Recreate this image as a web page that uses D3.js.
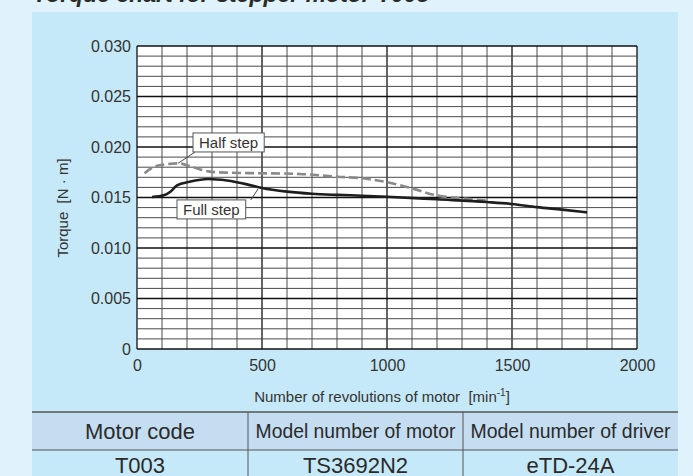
<!DOCTYPE html>
<html>
<head>
<meta charset="utf-8">
<script src="https://cdn.jsdelivr.net/npm/d3@7"></script>
<style>
  body { margin: 0; background: #e0f2fb; }
  svg { display: block; font-family: "Liberation Sans", Arial, sans-serif; }
</style>
</head>
<body>
<svg width="693" height="476"></svg>
<script>
// torque curves
const fullRpm = [60, 110, 135, 160, 210, 285, 360, 440, 500, 600, 700, 800, 900, 1000, 1200, 1400, 1500, 1600, 1700, 1800];
const fullTorque = [0.01505, 0.01525, 0.0156, 0.0162, 0.01655, 0.01683, 0.01668, 0.0163, 0.01594, 0.01558, 0.01537, 0.01526, 0.01518, 0.01508, 0.01482, 0.01455, 0.01436, 0.01405, 0.0138, 0.01353];
const halfRpm = [30, 70, 120, 165, 210, 250, 290, 360, 500, 650, 800, 900, 1000, 1100, 1200, 1300, 1400];
const halfTorque = [0.0174, 0.01805, 0.0183, 0.01838, 0.01812, 0.0178, 0.01756, 0.01746, 0.0174, 0.01733, 0.01706, 0.0169, 0.01652, 0.0159, 0.0152, 0.01492, 0.01468];

const xTicks = [0, 500, 1000, 1500, 2000];
const yTicks = [0, 0.005, 0.010, 0.015, 0.020, 0.025, 0.030];
const tableHead = ["Motor code", "Model number of motor", "Model number of driver"];
const tableRow = ["T003", "TS3692N2", "eTD-24A"];

const svg = d3.select("svg"),
    width = +svg.attr("width"),
    height = +svg.attr("height");

const x = d3.scaleLinear().domain([0, 2000]).range([137, 637]),
    y = d3.scaleLinear().domain([0, 0.030]).range([349, 46]);

svg.append("rect").attr("width", width).attr("height", height).attr("fill", "#e0f2fb");
svg.append("rect").attr("x", 32).attr("y", 12).attr("width", 646).attr("height", height - 12).attr("fill", "#c6e9f9");

// title, cut off at the top edge like the original
svg.append("text")
    .attr("x", 33).attr("y", 2)
    .attr("font-size", 23).attr("font-weight", "bold").attr("font-style", "italic")
    .attr("fill", "#2a2a2a")
    .text("Torque chart for stepper motor T003");

// plot paper
svg.append("rect")
    .attr("x", x(0)).attr("y", y(0.030))
    .attr("width", x(2000) - x(0)).attr("height", y(0) - y(0.030))
    .attr("fill", "#fff");

const grid = svg.append("g");
grid.selectAll(".vx")
    .data(d3.range(0, 2001, 100))
    .join("line")
    .attr("x1", d => x(d)).attr("x2", d => x(d))
    .attr("y1", y(0)).attr("y2", y(0.030))
    .attr("stroke", d => d % 500 === 0 ? "#111" : "#4a4a4a")
    .attr("stroke-width", d => d % 500 === 0 ? 1.3 : 1);
grid.selectAll(".hy")
    .data(d3.range(0, 31))
    .join("line")
    .attr("y1", d => y(d / 1000)).attr("y2", d => y(d / 1000))
    .attr("x1", x(0)).attr("x2", x(2000))
    .attr("stroke", d => d % 5 === 0 ? "#111" : "#4a4a4a")
    .attr("stroke-width", d => d % 5 === 0 ? 1.3 : 1);

// axes
const yAxis = d3.axisLeft(y).tickValues(yTicks).tickSize(0).tickPadding(6)
    .tickFormat(d => d === 0 ? "0" : d3.format(".3f")(d));
const xAxis = d3.axisBottom(x).tickValues(xTicks).tickSize(0).tickPadding(11)
    .tickFormat(d3.format("d"));

const gy = svg.append("g").attr("transform", "translate(" + x(0) + ",0)").call(yAxis);
const gx = svg.append("g").attr("transform", "translate(0," + y(0) + ")").call(xAxis);
[gx, gy].forEach(g => {
  g.select(".domain").remove();
  g.selectAll("text").attr("font-size", 16).attr("fill", "#333")
      .attr("font-family", "Liberation Sans, Arial, sans-serif");
});

svg.append("text")
    .attr("transform", "translate(68,208) rotate(-90)")
    .attr("text-anchor", "middle")
    .attr("font-size", 15).attr("fill", "#333")
    .attr("xml:space", "preserve")
    .text("Torque  [N · m]");

const xt = svg.append("text")
    .attr("x", 382).attr("y", 402)
    .attr("text-anchor", "middle")
    .attr("font-size", 15).attr("fill", "#333")
    .attr("xml:space", "preserve");
xt.append("tspan").text("Number of revolutions of motor  [min");
xt.append("tspan").attr("font-size", 10).attr("dy", -6).text("-1");
xt.append("tspan").attr("dy", 6).text("]");

// curves
const line = d3.line().curve(d3.curveMonotoneX)
    .x(d => x(d[0])).y(d => y(d[1]));

svg.append("path")
    .datum(d3.zip(halfRpm, halfTorque))
    .attr("d", line)
    .attr("fill", "none").attr("stroke", "#8a8a8a")
    .attr("stroke-width", 2.6).attr("stroke-dasharray", "9,4");

svg.append("path")
    .datum(d3.zip(fullRpm, fullTorque))
    .attr("d", line)
    .attr("fill", "none").attr("stroke", "#1e1e1e")
    .attr("stroke-width", 2.6);

// callout labels
const callouts = [
  { text: "Half step", bx: 224, by: 0.02045, from: [164, 0.01838], to: [232, 0.0195] },
  { text: "Full step", bx: 160, by: 0.01382, from: [484, 0.01584], to: [455, 0.01475] }
];
callouts.forEach(c => {
  svg.append("line")
      .attr("x1", x(c.from[0])).attr("y1", y(c.from[1]))
      .attr("x2", x(c.to[0])).attr("y2", y(c.to[1]))
      .attr("stroke", "#444").attr("stroke-width", 1);
  const g = svg.append("g");
  const t = g.append("text")
      .attr("x", x(c.bx) + 6).attr("y", y(c.by)).attr("dy", "0.35em")
      .attr("font-size", 15).attr("fill", "#333")
      .text(c.text);
  const w = t.node().getComputedTextLength();
  g.insert("rect", "text")
      .attr("x", x(c.bx)).attr("y", y(c.by) - 9.5)
      .attr("width", w + 12).attr("height", 19)
      .attr("fill", "#fff").attr("stroke", "#555").attr("stroke-width", 1);
});

// model table
const cols = [32, 248, 463, 678];
const tb = svg.append("g");
tb.append("rect").attr("x", cols[0]).attr("y", 412).attr("width", cols[3] - cols[0]).attr("height", 38)
    .attr("fill", "#c4ddf1");
tb.append("line").attr("x1", cols[0]).attr("x2", cols[3]).attr("y1", 412).attr("y2", 412)
    .attr("stroke", "#555").attr("stroke-width", 1.5);
tb.append("line").attr("x1", cols[0]).attr("x2", cols[3]).attr("y1", 450).attr("y2", 450)
    .attr("stroke", "#555").attr("stroke-width", 1);
tb.selectAll(".div").data(cols.slice(1, 3)).join("line")
    .attr("x1", d => d).attr("x2", d => d).attr("y1", 412).attr("y2", height)
    .attr("stroke", "#555").attr("stroke-width", 1);

function cellText(sel, yPos) {
  sel.attr("x", (d, i) => (cols[i] + cols[i + 1]) / 2).attr("y", yPos).attr("dy", "0.35em")
      .attr("text-anchor", "middle").attr("font-size", 22).attr("fill", "#2a2a2a")
      .text(d => d)
      .each(function () {
        // the original face is narrower; shrink long headers to fit the cell
        const w = this.getComputedTextLength();
        if (w > 200) d3.select(this).attr("font-size", 22 * 200 / w);
      });
}
tb.selectAll(".hd").data(tableHead).join("text").call(cellText, 431);
tb.selectAll(".rw").data(tableRow).join("text").call(cellText, 465);
</script>
</body>
</html>
